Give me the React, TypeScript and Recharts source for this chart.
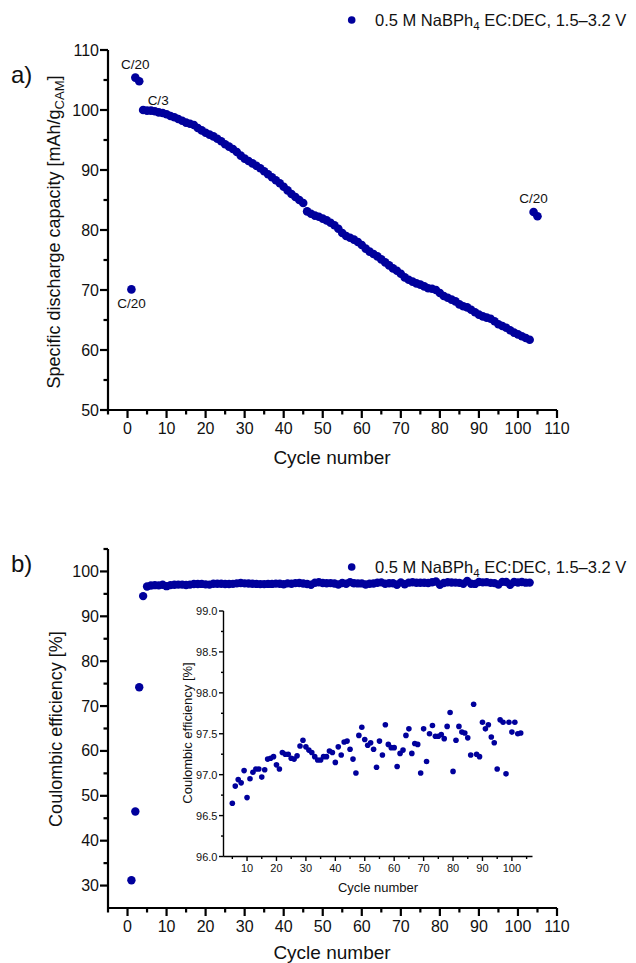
import React from 'react';
import { ScatterChart, Scatter, XAxis, YAxis } from 'recharts';

const FONT = "Arial, 'Liberation Sans', Helvetica, sans-serif";
const BLUE = '#00009C';
const INK = '#111111';

// ---------- data ----------
// (a) specific discharge capacity, cycles 1..105 [mAh/g_CAM]
const capacityValues = [
  70.1, 105.4, 104.8,
  100.0, 99.9, 99.9, 99.8, 99.6, 99.5, 99.3, 99.0, 98.8, 98.5,
  98.2, 97.9, 97.7, 97.5, 97.0, 96.6, 96.2, 95.9, 95.6, 95.2,
  94.8, 94.3, 93.9, 93.5, 93.0, 92.4, 91.9, 91.5, 91.1, 90.7,
  90.3, 89.8, 89.3, 88.8, 88.3, 87.8, 87.2, 86.6, 86.0, 85.5,
  85.0, 84.5, 83.1, 82.7, 82.4, 82.2, 81.9, 81.6, 81.2, 80.8,
  80.2, 79.5, 79.0, 78.7, 78.4, 78.0, 77.5, 76.9, 76.4, 76.0,
  75.6, 75.1, 74.6, 74.1, 73.6, 73.2, 72.7, 72.1, 71.7, 71.4,
  71.1, 70.9, 70.6, 70.3, 70.2, 70.0, 69.5, 69.0, 68.7, 68.4,
  68.1, 67.6, 67.3, 67.1, 66.7, 66.3, 65.9, 65.6, 65.4, 65.2,
  64.8, 64.3, 64.0, 63.7, 63.3, 62.9, 62.6, 62.3, 62.0, 61.7,
  83.0, 82.3,
];

// (b) coulombic efficiency, cycles 1..103 [%]
const efficiencyValues = [
  31.2, 46.5, 74.2, 94.5,
  96.65, 96.86, 96.94, 96.90, 97.05, 96.72, 96.95, 97.03, 97.07, 97.07,
  96.97, 97.06, 97.19, 97.20, 97.22, 97.12, 97.07, 97.27, 97.25, 97.25,
  97.20, 97.19, 97.23, 97.35, 97.42, 97.34, 97.30, 97.27, 97.22, 97.18,
  97.18, 97.22, 97.22, 97.29, 97.27, 97.15, 97.34, 97.24, 97.40, 97.41,
  97.31, 97.19, 97.02, 97.48, 97.58, 97.43, 97.36, 97.39, 97.31, 97.09,
  97.41, 97.24, 97.61, 97.37, 97.33, 97.33, 97.10, 97.26, 97.30, 97.48,
  97.56, 97.26, 97.38, 97.37, 97.02, 97.56, 97.16, 97.50, 97.60, 97.47,
  97.47, 97.49, 97.44, 97.59, 97.76, 97.04, 97.42, 97.59, 97.52, 97.51,
  97.45, 97.24, 97.86, 97.25, 97.22, 97.64, 97.56, 97.61, 97.46, 97.39,
  97.07, 97.67, 97.64, 97.01, 97.64, 97.52, 97.64, 97.50, 97.51,
];

const capacityData = capacityValues.map((y, i) => ({ x: i + 1, y }));
const efficiencyData = efficiencyValues.map((y, i) => ({ x: i + 1, y }));
const insetData = efficiencyData.filter((d) => d.x >= 5);

// rate annotations on panel (a): [cycle, label, placement]
const annotationCycles = [1, 2, 4, 104];
const annotationTexts = ['C/20', 'C/20', 'C/3', 'C/20'];
const annotationPlacement = ['below', 'above', 'right', 'above'];
const annotationData = annotationCycles.map((c, i) => ({
  x: c,
  y: capacityValues[c - 1],
  text: annotationTexts[i],
  place: annotationPlacement[i],
}));

// ticks
const mainXMajor = [0, 10, 20, 30, 40, 50, 60, 70, 80, 90, 100, 110];
const mainXMinor = [-5, 5, 15, 25, 35, 45, 55, 65, 75, 85, 95, 105];
const capYMajor = [50, 60, 70, 80, 90, 100, 110];
const capYMinor = [55, 65, 75, 85, 95, 105];
const effYMajor = [30, 40, 50, 60, 70, 80, 90, 100];
const effYMinor = [35, 45, 55, 65, 75, 85, 95, 105];
const insetXMajor = [10, 20, 30, 40, 50, 60, 70, 80, 90, 100];
const insetXMinor = [5, 15, 25, 35, 45, 55, 65, 75, 85, 95, 105];
const insetYMajor = [96.0, 96.5, 97.0, 97.5, 98.0, 98.5, 99.0];
const insetYMinor = [96.25, 96.75, 97.25, 97.75, 98.25, 98.75];

const legendText = '0.5 M NaBPh';

// ---------- helpers ----------
const isIn = (arr: number[], v: number) => arr.some((a) => Math.abs(a - v) < 1e-6);

// tickSize = 0, so (x, y) handed to the renderer sits on the axis line; tick marks are drawn as filled rects
const makeXTick = (major: number[], majorLen: number, minorLen: number, w: number, fontSize: number, labelDy: number, fmt: (v: number) => string) =>
  (props: any) => {
    const x = Number(props.x);
    const y = Number(props.y);
    const v = props.payload.value;
    const isMajor = isIn(major, v);
    const len = isMajor ? majorLen : minorLen;
    return (
      <g>
        <rect x={x - w / 2} y={y} width={w} height={len} fill="#000" stroke="none" />
        {isMajor && (
          <text x={x} y={y + labelDy} textAnchor="middle" fontSize={fontSize} fontFamily={FONT} fill={INK} stroke="none">
            {fmt(v)}
          </text>
        )}
      </g>
    );
  };

const makeYTick = (major: number[], majorLen: number, minorLen: number, w: number, fontSize: number, labelDx: number, baseDy: number, fmt: (v: number) => string) =>
  (props: any) => {
    const x = Number(props.x);
    const y = Number(props.y);
    const v = props.payload.value;
    const isMajor = isIn(major, v);
    const len = isMajor ? majorLen : minorLen;
    return (
      <g>
        <rect x={x - len} y={y - w / 2} width={len} height={w} fill="#000" stroke="none" />
        {isMajor && (
          <text x={x - labelDx} y={y + baseDy} textAnchor="end" fontSize={fontSize} fontFamily={FONT} fill={INK} stroke="none">
            {fmt(v)}
          </text>
        )}
      </g>
    );
  };

const dot = (r: number) => (p: any) => <circle cx={p.cx} cy={p.cy} r={r} fill={BLUE} />;

const annotationShape = (p: any) => {
  const d = p.payload;
  let dx = 0;
  let dy = -9;
  let anchor: 'middle' | 'start' = 'middle';
  if (d.place === 'below') dy = 19;
  if (d.place === 'right') {
    dx = 4.5;
    dy = -5;
    anchor = 'start';
  }
  return (
    <text x={p.cx + dx} y={p.cy + dy} textAnchor={anchor} fontSize={13.5} fontFamily={FONT} fill={INK}>
      {d.text}
    </text>
  );
};

const intFmt = (v: number) => String(v);
const oneDec = (v: number) => v.toFixed(1);

const mainXTick = makeXTick(mainXMajor, 8, 4.5, 2.2, 16, 24, intFmt);
const capYTick = makeYTick(capYMajor, 8, 4.5, 2.2, 16, 9, 5.5, intFmt);
const effYTick = makeYTick(effYMajor, 8, 4.5, 2.2, 16, 9, 5.5, intFmt);
const insetXTick = makeXTick(insetXMajor, 4.5, 2.5, 1.4, 11, 15, intFmt);
const insetYTick = makeYTick(insetYMajor, 4.5, 2.5, 1.4, 11, 6, 4, oneDec);

const axisStyle = { stroke: '#000', strokeWidth: 2.2 };
const insetAxisStyle = { stroke: '#000', strokeWidth: 1.4 };

export default function App() {
  return (
    <div style={{ position: 'absolute', left: 0, top: 0, width: 636, height: 963, background: '#fff', overflow: 'hidden' }}>
      {/* panel a */}
      <div style={{ position: 'absolute', left: 0, top: 0 }}>
        <ScatterChart width={636} height={480} margin={{ top: 50, right: 79, bottom: 40, left: 48 }}>
          <XAxis
            type="number"
            dataKey="x"
            domain={[-5, 110]}
            ticks={[...mainXMinor, ...mainXMajor].sort((a, b) => a - b)}
            interval={0}
            tick={mainXTick}
            tickLine={false}
            tickSize={0}
            tickMargin={0}
            stroke="#000"
            axisLine={axisStyle}
            height={30}
            allowDataOverflow
          />
          <YAxis
            type="number"
            dataKey="y"
            domain={[50, 110]}
            ticks={[...capYMinor, ...capYMajor].sort((a, b) => a - b)}
            interval={0}
            tick={capYTick}
            tickLine={false}
            tickSize={0}
            tickMargin={0}
            stroke="#000"
            axisLine={axisStyle}
            width={60}
            allowDataOverflow
          />
          <Scatter data={capacityData} shape={dot(4.3)} isAnimationActive={false} />
          <Scatter data={annotationData} shape={annotationShape} isAnimationActive={false} />
        </ScatterChart>
      </div>

      {/* panel b */}
      <div style={{ position: 'absolute', left: 0, top: 480 }}>
        <ScatterChart width={636} height={483} margin={{ top: 69, right: 79, bottom: 25, left: 48 }}>
          <XAxis
            type="number"
            dataKey="x"
            domain={[-5, 110]}
            ticks={[...mainXMinor, ...mainXMajor].sort((a, b) => a - b)}
            interval={0}
            tick={mainXTick}
            tickLine={false}
            tickSize={0}
            tickMargin={0}
            stroke="#000"
            axisLine={axisStyle}
            height={30}
            allowDataOverflow
          />
          <YAxis
            type="number"
            dataKey="y"
            domain={[25, 105]}
            ticks={[...effYMinor, ...effYMajor].sort((a, b) => a - b)}
            interval={0}
            tick={effYTick}
            tickLine={false}
            tickSize={0}
            tickMargin={0}
            stroke="#000"
            axisLine={axisStyle}
            width={60}
            allowDataOverflow
          />
          <Scatter data={efficiencyData} shape={dot(4.2)} isAnimationActive={false} />
        </ScatterChart>
      </div>

      {/* inset */}
      <div style={{ position: 'absolute', left: 150, top: 590 }}>
        <ScatterChart width={400} height={320} margin={{ top: 21, right: 17.5, bottom: 23.5, left: 33.5 }}>
          <XAxis
            type="number"
            dataKey="x"
            domain={[2, 107]}
            ticks={[...insetXMinor, ...insetXMajor].sort((a, b) => a - b)}
            interval={0}
            tick={insetXTick}
            tickLine={false}
            tickSize={0}
            tickMargin={0}
            stroke="#000"
            axisLine={insetAxisStyle}
            height={30}
            allowDataOverflow
          />
          <YAxis
            type="number"
            dataKey="y"
            domain={[96, 99]}
            ticks={[...insetYMinor, ...insetYMajor].sort((a, b) => a - b)}
            interval={0}
            tick={insetYTick}
            tickLine={false}
            tickSize={0}
            tickMargin={0}
            stroke="#000"
            axisLine={insetAxisStyle}
            width={40}
            allowDataOverflow
          />
          <Scatter data={insetData} shape={dot(2.8)} isAnimationActive={false} />
        </ScatterChart>
      </div>

      {/* titles, legends, panel letters */}
      <svg width={636} height={963} style={{ position: 'absolute', left: 0, top: 0, pointerEvents: 'none' }}>
        <g fontFamily={FONT} fill={INK}>
          {/* legend a */}
          <circle cx={351.7} cy={20} r={3.8} fill={BLUE} />
          <text x={375} y={25.5} fontSize={16.5}>
            {legendText}
            <tspan dy={4} fontSize={11.5}>4</tspan>
            <tspan dy={-4}> EC:DEC, 1.5–3.2 V</tspan>
          </text>
          {/* legend b */}
          <circle cx={351.7} cy={567} r={3.8} fill={BLUE} />
          <text x={375} y={572.5} fontSize={16.5}>
            {legendText}
            <tspan dy={4} fontSize={11.5}>4</tspan>
            <tspan dy={-4}> EC:DEC, 1.5–3.2 V</tspan>
          </text>

          <text x={11} y={83} fontSize={24}>a)</text>
          <text x={11} y={572} fontSize={24}>b)</text>

          <text transform="translate(60,232) rotate(-90)" textAnchor="middle" fontSize={18}>
            Specific discharge capacity [mAh/g
            <tspan dy={4} fontSize={13}>CAM</tspan>
            <tspan dy={-4}>]</tspan>
          </text>
          <text x={332} y={464} textAnchor="middle" fontSize={19}>Cycle number</text>

          <text transform="translate(62,729) rotate(-90)" textAnchor="middle" fontSize={18}>
            Coulombic efficiency [%]
          </text>
          <text x={332} y={959} textAnchor="middle" fontSize={19}>Cycle number</text>

          <text transform="translate(192,733) rotate(-90)" textAnchor="middle" fontSize={13}>
            Coulombic efficiency [%]
          </text>
          <text x={378} y={892} textAnchor="middle" fontSize={13}>Cycle number</text>
        </g>
      </svg>
    </div>
  );
}
